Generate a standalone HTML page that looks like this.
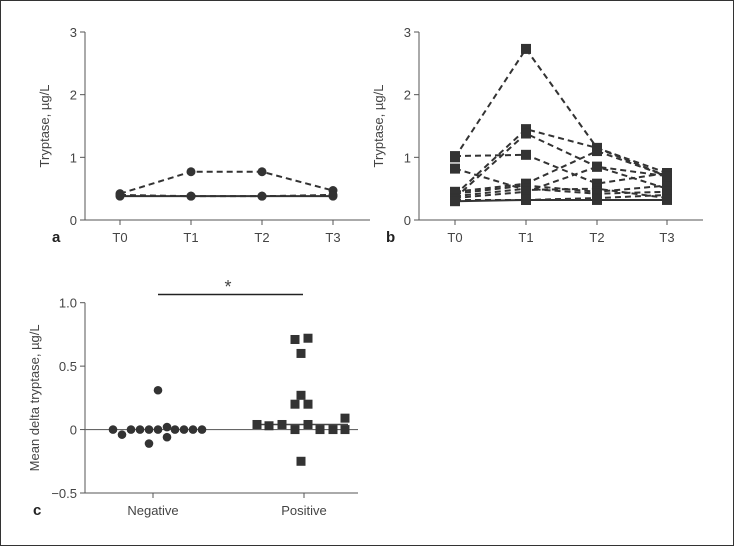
<!DOCTYPE html>
<html><head><meta charset="utf-8"><style>
html,body{margin:0;padding:0;background:#fff}
svg{display:block}
text{font-family:"Liberation Sans","DejaVu Sans",sans-serif;fill:#444}
</style></head><body>
<svg id="s" width="734" height="546" viewBox="0 0 734 546" xmlns="http://www.w3.org/2000/svg">
<rect x="0.5" y="0.5" width="733" height="545" fill="#fff" stroke="#333" stroke-width="1"/>
</svg>
<script>
const timeCats=["T0","T1","T2","T3"];
const yTicksAB=[0,1,2,3];
const seriesA1=[0.42,0.77,0.77,0.47];
const seriesA2=[0.40,0.38,0.38,0.40];
const seriesA3=[0.38,0.38,0.38,0.38];
const seriesB1=[1.00,2.73,1.15,0.75];
const seriesB2=[0.40,1.45,1.15,0.70];
const seriesB3=[0.35,1.38,0.85,0.50];
const seriesB4=[1.02,1.04,0.58,0.75];
const seriesB5=[0.82,0.48,0.50,0.35];
const seriesB6=[0.45,0.58,1.10,0.70];
const seriesB7=[0.42,0.55,0.45,0.55];
const seriesB8=[0.38,0.50,0.42,0.45];
const seriesB9=[0.35,0.45,0.85,0.70];
const seriesB10=[0.32,0.32,0.35,0.40];
const seriesB11=[0.30,0.32,0.32,0.32];
const groupCats=["Negative","Positive"];
const yTicksC=[-0.5,0,0.5,1.0];
const yTickLabelsC=["\u22120.5","0","0.5","1.0"];
const negValues=[0,-0.04,0,0,0,0,0.31,-0.11,0.02,-0.06,0,0,0,0];
const negJitter=[-40,-31,-22,-13,-4,5,5,-4,14,14,22,31,40,49];
const posValues=[0.04,0.03,0.04,0.2,0,0.71,0.6,0.27,0.72,0.2,0.04,0,0,0.09,0,-0.25];
const posJitter=[-47,-35,-22,-9,-9,-9,-3,-3,4,4,4,16,29,41,41,-3];
const posMedian=0.04;

const NS="http://www.w3.org/2000/svg";
const svg=document.getElementById('s');
function mk(tag,attrs,parent){const e=document.createElementNS(NS,tag);for(const k in attrs)e.setAttribute(k,attrs[k]);(parent||svg).appendChild(e);return e;}
function txt(s,attrs,parent){const e=mk('text',attrs,parent);e.textContent=s;return e;}

function timePanel(id,x0,xEnd,yTop,yBot,tx,series,marker,label){
  const g=mk('g',{});
  
  
  const ys=v=>yBot-(v/3)*(yBot-yTop);
  const xs=i=>tx[i];
  const ax=mk('path',{d:`M${x0} ${yTop}V${yBot}H${xEnd}`,stroke:'#555',fill:'none','stroke-width':1},g);
  
  
  yTicksAB.forEach(t=>{
    mk('line',{x1:x0-5,x2:x0,y1:ys(t),y2:ys(t),stroke:'#555'},g);
    const e=txt(String(t),{x:x0-8,y:ys(t)+5,'text-anchor':'end','font-size':13},g);
    
    
  });
  timeCats.forEach((c,i)=>{
    mk('line',{x1:xs(i),x2:xs(i),y1:yBot,y2:yBot+5,stroke:'#555'},g);
    const e=txt(c,{x:xs(i),y:yBot+22,'text-anchor':'middle','font-size':13},g);
    
    
  });
  const yt=txt('Tryptase, \u00b5g/L',{x:0,y:0,'text-anchor':'middle','font-size':13,transform:`translate(${x0-36},${(yTop+yBot)/2}) rotate(-90)`},g);
  
  
  const pl=txt(label,{x:x0-33,y:yBot+22,'font-size':15,'font-weight':'bold',style:'fill:#222'},g);
  
  
  series.forEach((s,si)=>{
    const solid=s.solid;
    const d=s.v.map((v,i)=>(i?'L':'M')+xs(i)+' '+ys(v)).join('');
    const p=mk('path',{d:d,fill:'none',stroke:'#333','stroke-width':2,'stroke-dasharray':solid?'none':'6 4'},g);
    
    
    s.v.forEach((v,i)=>{
      let m;
      if(marker==='circle') m=mk('circle',{cx:xs(i),cy:ys(v),r:4.5,fill:'#333'},g);
      else m=mk('rect',{x:xs(i)-5,y:ys(v)-5,width:10,height:10,fill:'#333'},g);
      
      
    });
  });
}
timePanel('a',85,370,32,220,[120,191,262,333],
  [{v:seriesA1},{v:seriesA2},{v:seriesA3,solid:true}],'circle','a');
timePanel('b',419,703,32,220,[455,526,597,667],
  [{v:seriesB1},{v:seriesB2},{v:seriesB3},{v:seriesB4},{v:seriesB5},{v:seriesB6},{v:seriesB7},{v:seriesB8},{v:seriesB9},{v:seriesB10},{v:seriesB11,solid:true}],'square','b');

// panel c
(function(){
  const g=mk('g',{});
  
  
  const x0=85,xEnd=358,yTop=302.7,yBot=493;
  const ys=v=>yBot-((v+0.5)/1.5)*(yBot-yTop);
  const cx=[153,304];
  const ax=mk('path',{d:`M${x0} ${yTop}V${yBot}H${xEnd}`,stroke:'#555',fill:'none'},g);
  
  
  const zl=mk('line',{x1:x0,x2:xEnd,y1:ys(0),y2:ys(0),stroke:'#666','stroke-width':1.2},g);
  
  
  yTicksC.forEach((t,i)=>{
    mk('line',{x1:x0-5,x2:x0,y1:ys(t),y2:ys(t),stroke:'#555'},g);
    const e=txt(yTickLabelsC[i],{x:x0-8,y:ys(t)+5,'text-anchor':'end','font-size':13},g);
    
    
  });
  groupCats.forEach((c,i)=>{
    mk('line',{x1:cx[i],x2:cx[i],y1:yBot,y2:yBot+5,stroke:'#555'},g);
    const e=txt(c,{x:cx[i],y:yBot+22,'text-anchor':'middle','font-size':13},g);
    
    
  });
  const yt=txt('Mean delta tryptase, \u00b5g/L',{x:0,y:0,'text-anchor':'middle','font-size':13,transform:`translate(${x0-46},${(yTop+yBot)/2}) rotate(-90)`},g);
  
  
  const pl=txt('c',{x:33,y:yBot+22,'font-size':15,'font-weight':'bold',style:'fill:#222'},g);
  
  
  const sb=mk('line',{x1:158,x2:303,y1:294.5,y2:294.5,stroke:'#222','stroke-width':1.5},g);
  
  
  const st=txt('*',{x:228,y:293,'text-anchor':'middle','font-size':18},g);
  
  
  const ml=mk('line',{x1:254,x2:348,y1:ys(posMedian),y2:ys(posMedian),stroke:'#444','stroke-width':1.5},g);
  
  
  negValues.forEach((v,i)=>{
    const c=mk('circle',{cx:cx[0]+negJitter[i],cy:ys(v),r:4.3,fill:'#333'},g);
    
    
  });
  posValues.forEach((v,i)=>{
    const r=mk('rect',{x:cx[1]+posJitter[i]-4.5,y:ys(v)-4.5,width:9,height:9,fill:'#333'},g);
    
    
  });
})();
</script>
</body></html>
